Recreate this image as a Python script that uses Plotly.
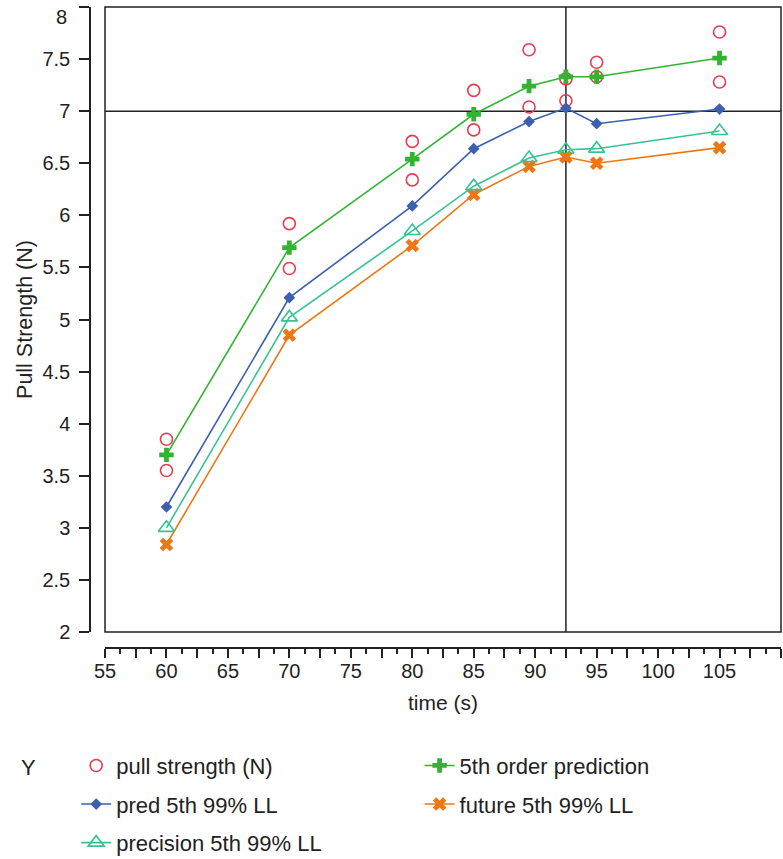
import plotly.graph_objects as go

# Observed pull strength (two replicates per time) and fitted curves
time_s = [60, 70, 80, 85, 89.5, 92.5, 95, 105]
pull_rep1 = [3.85, 5.92, 6.71, 7.20, 7.59, 7.31, 7.47, 7.76]
pull_rep2 = [3.55, 5.49, 6.34, 6.82, 7.04, 7.10, 7.33, 7.28]
pred_5th = [3.70, 5.69, 6.54, 6.97, 7.24, 7.33, 7.33, 7.51]
pred_ll = [3.20, 5.21, 6.09, 6.64, 6.90, 7.03, 6.88, 7.02]
future_ll = [2.84, 4.85, 5.71, 6.20, 6.47, 6.56, 6.50, 6.65]
precision_ll = [3.00, 5.02, 5.85, 6.28, 6.55, 6.63, 6.64, 6.81]

# Reference lines
ref_strength = 7
ref_time = 92.5

# Axis ticks
x_ticks = [55 + 2.5 * i for i in range(23)]
x_labels = [str(int(v)) if v % 5 == 0 and v <= 105 else "" for v in x_ticks]
y_ticks = [2 + 0.5 * i for i in range(13)]
y_top = y_ticks[-1]
# the top label is set as an annotation so it sits just under the frame edge
y_labels = [f"{v:g}" if v < y_top else "" for v in y_ticks]

FONT = "Liberation Sans, Arial, Helvetica, sans-serif"
INK = "#222"
RED = "rgb(230,60,80)"
GREEN = "rgb(50,180,50)"
BLUE = "rgb(60,95,175)"
ORANGE = "rgb(235,120,20)"
TEAL = "rgb(55,195,145)"

fig = go.Figure()

fig.add_trace(go.Scatter(
    x=time_s + time_s, y=pull_rep1 + pull_rep2, mode="markers",
    name="pull strength (N)",
    marker=dict(symbol="circle-open", size=12, color=RED, line=dict(width=1.6, color=RED)),
    legend="legend", legendgroup="a",
))
fig.add_trace(go.Scatter(
    x=time_s, y=pred_5th, mode="lines+markers", name="5th order prediction",
    line=dict(color=GREEN, width=1.6),
    marker=dict(symbol="cross", size=12, color=GREEN),
    legend="legend2", legendgroup="b",
))
fig.add_trace(go.Scatter(
    x=time_s, y=pred_ll, mode="lines+markers", name="pred 5th 99% LL",
    line=dict(color=BLUE, width=1.6),
    marker=dict(symbol="diamond", size=9, color=BLUE),
    legend="legend", legendgroup="c",
))
fig.add_trace(go.Scatter(
    x=time_s, y=future_ll, mode="lines+markers", name="future 5th 99% LL",
    line=dict(color=ORANGE, width=1.6),
    marker=dict(symbol="x", size=12, color=ORANGE),
    legend="legend2", legendgroup="d",
))
fig.add_trace(go.Scatter(
    x=time_s, y=precision_ll, mode="lines+markers", name="precision 5th 99% LL",
    line=dict(color=TEAL, width=1.6),
    marker=dict(symbol="triangle-up-open", size=14, color=TEAL, line=dict(width=1.6, color=TEAL)),
    legend="legend", legendgroup="e",
))

# Frame and reference lines
fig.add_shape(type="rect", xref="x domain", yref="y domain", x0=0, x1=1, y0=0, y1=1,
              line=dict(color=INK, width=1.5), layer="below")
fig.add_shape(type="line", xref="x domain", yref="y", x0=0, x1=1, y0=ref_strength, y1=ref_strength,
              line=dict(color=INK, width=1.5), layer="below")
fig.add_shape(type="line", xref="x", yref="y domain", x0=ref_time, x1=ref_time, y0=0, y1=1,
              line=dict(color=INK, width=1.5), layer="below")

fig.add_annotation(text=f"{y_top:g}", xref="paper", yref="y", x=-0.0304, y=y_top,
                   xanchor="right", yanchor="top", yshift=3, showarrow=False,
                   font=dict(family=FONT, size=20, color=INK))
fig.add_annotation(text="Y", xref="paper", yref="paper", x=-0.103, y=-0.186,
                   xanchor="left", yanchor="middle", showarrow=False,
                   font=dict(family=FONT, size=22, color=INK))

legend_common = dict(
    orientation="v", xanchor="left", yanchor="top", traceorder="grouped",
    tracegroupgap=7, font=dict(family=FONT, size=22, color=INK),
    bgcolor="rgba(0,0,0,0)", itemclick=False, itemdoubleclick=False,
    maxheight=300,
)

fig.update_layout(
    width=783, height=859,
    margin=dict(l=90, r=2, t=7, b=211, autoexpand=False),
    paper_bgcolor="white", plot_bgcolor="white",
    font=dict(family=FONT, size=20, color=INK),
    xaxis=dict(
        domain=[15 / 691, 1], range=[55, 110], anchor="free", position=0,
        showline=True, linecolor=INK, linewidth=1.5, showgrid=False, zeroline=False,
        tickmode="array", tickvals=x_ticks, ticktext=x_labels,
        ticks="outside", ticklen=9, tickwidth=1.5, tickcolor=INK,
        minor=dict(dtick=1.25, tick0=55, ticks="outside", ticklen=5, tickwidth=1.5, tickcolor=INK),
        tickfont=dict(size=20), ticklabelstandoff=-4,
        title=dict(text="time (s)", font=dict(size=21), standoff=14),
    ),
    yaxis=dict(
        domain=[16 / 641, 1], range=[2, 8], anchor="free", position=0,
        showline=True, linecolor=INK, linewidth=1.5, showgrid=False, zeroline=False,
        tickmode="array", tickvals=y_ticks, ticktext=y_labels,
        ticks="outside", ticklen=10, tickwidth=1.5, tickcolor=INK,
        tickfont=dict(size=20), ticklabelstandoff=5,
        title=dict(text="Pull Strength (N)", font=dict(size=21.5), standoff=3),
    ),
    legend=dict(x=-0.02, y=-0.1508, **legend_common),
    legend2=dict(x=0.477, y=-0.1508, **legend_common),
)

fig.write_html("out.html")
